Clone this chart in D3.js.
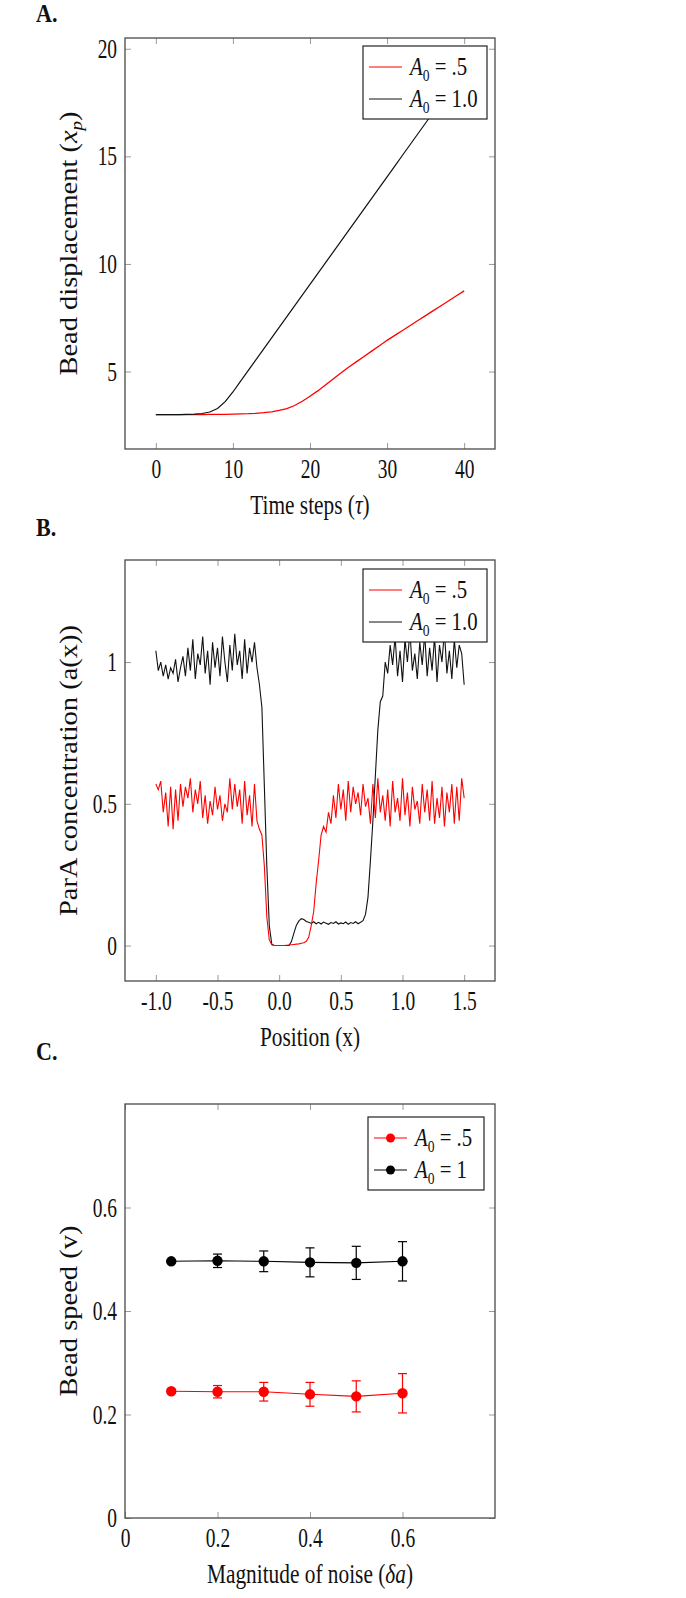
<!DOCTYPE html>
<html>
<head>
<meta charset="utf-8">
<script src="https://cdn.jsdelivr.net/npm/d3@7"></script>
<style>
  body { margin: 0; background: #fff; }
  text { font-family: "Liberation Serif", "DejaVu Serif", serif; fill: #111; }
</style>
</head>
<body>
<div id="chart"></div>
<script>
// ---- Panel A data: bead displacement vs time ----
var timeSteps = d3.range(0, 41);
var dispHalf = [3.00, 3.00, 3.00, 3.00, 3.00, 3.00, 3.00, 3.01, 3.01, 3.01,
  3.02, 3.03, 3.04, 3.06, 3.09, 3.13, 3.19, 3.28, 3.42, 3.62,
  3.85, 4.10, 4.37, 4.65, 4.93, 5.20, 5.45, 5.70, 5.95, 6.20,
  6.45, 6.68, 6.91, 7.14, 7.37, 7.60, 7.83, 8.06, 8.29, 8.52, 8.75];
var dispOne = [3.00, 3.00, 3.00, 3.00, 3.01, 3.02, 3.05, 3.12, 3.28, 3.60,
  4.05, 4.55, 5.05, 5.55, 6.05, 6.55, 7.05, 7.55, 8.05, 8.55,
  9.05, 9.55, 10.05, 10.55, 11.05, 11.55, 12.05, 12.55, 13.05, 13.55,
  14.05, 14.55, 15.05, 15.55, 16.05, 16.55, 17.05, 17.55, 18.05, 18.55, 19.05];

// ---- Panel B data: ParA concentration, sampled every 0.02 from x = -1.0 ----
var concOne = [
  1.04, 0.97, 1.00, 0.95, 0.99, 0.94, 0.98, 0.96, 1.01, 0.93,
  0.98, 1.02, 0.95, 1.05, 0.97, 1.08, 0.94, 1.03, 0.99, 1.09,
  0.96, 1.04, 0.92, 1.07, 0.98, 1.05, 0.95, 1.09, 1.00, 0.93,
  1.06, 0.97, 1.10, 0.99, 1.04, 0.94, 1.08, 0.96, 1.05, 1.00,
  1.07, 0.98, 0.92,
  0.84, 0.56, 0.28, 0.07, 0.005,
  0, 0, 0, 0, 0, 0, 0,
  0.015, 0.045, 0.072, 0.087, 0.095, 0.092, 0.085,
  0.082, 0.078, 0.084, 0.077, 0.082, 0.076, 0.083, 0.079, 0.075, 0.081,
  0.078, 0.084, 0.076, 0.080, 0.077, 0.083, 0.075, 0.081, 0.078, 0.084,
  0.077, 0.082, 0.088,
  0.11, 0.17, 0.30, 0.44, 0.60, 0.76, 0.86, 0.88, 1.00,
  0.96, 1.06, 0.99, 1.09, 0.95, 1.04, 0.93, 1.08, 1.00, 1.11,
  0.97, 1.03, 0.94, 1.07, 0.99, 1.10, 0.95, 1.05, 0.97, 1.09,
  0.93, 1.06, 1.00, 1.11, 0.96, 1.04, 0.94, 1.08, 0.98, 1.06,
  1.03, 0.92];
var concHalf = [
  0.57, 0.55, 0.58, 0.47, 0.54, 0.42, 0.56, 0.41, 0.55, 0.44,
  0.57, 0.49, 0.56, 0.52, 0.59, 0.47, 0.55, 0.50, 0.58, 0.45,
  0.53, 0.43, 0.51, 0.46, 0.56, 0.48, 0.53, 0.44, 0.50, 0.47,
  0.59, 0.48, 0.57, 0.49, 0.55, 0.43, 0.58, 0.46, 0.53, 0.42,
  0.57, 0.44,
  0.41, 0.39, 0.28, 0.10, 0.02, 0.003,
  0, 0, 0, 0, 0,
  0.001, 0.002, 0.003, 0.004, 0.005, 0.006, 0.008, 0.01, 0.015,
  0.03, 0.07, 0.12, 0.22, 0.30, 0.39, 0.42, 0.40, 0.47, 0.43,
  0.53, 0.45, 0.57, 0.48, 0.55, 0.44, 0.58, 0.47, 0.56, 0.50,
  0.54, 0.46, 0.57, 0.49, 0.52, 0.43, 0.57, 0.45, 0.59, 0.47,
  0.53, 0.44, 0.55, 0.42, 0.58, 0.47, 0.52, 0.44, 0.59, 0.46,
  0.54, 0.42, 0.56, 0.48, 0.51, 0.43, 0.57, 0.47, 0.55, 0.44,
  0.58, 0.43, 0.52, 0.45, 0.56, 0.42, 0.54, 0.47, 0.57, 0.43,
  0.56, 0.44, 0.59, 0.52];
var positions = concOne.map((d, i) => -1 + i * 0.02);

// ---- Panel C data: bead speed vs noise ----
var noiseLevels = [0.1, 0.2, 0.3, 0.4, 0.5, 0.6];
var speedHalf = [0.245, 0.244, 0.244, 0.239, 0.235, 0.241];
var errHalf = [0.004, 0.012, 0.018, 0.023, 0.030, 0.038];
var speedOne = [0.496, 0.497, 0.496, 0.494, 0.493, 0.496];
var errOne = [0.003, 0.013, 0.020, 0.028, 0.032, 0.038];

var svgWidth = 686, svgHeight = 1598;
var frameLeft = 125, frameRight = 495;
var plotW = frameRight - frameLeft;
// the figure is squeezed sideways, so all text is narrowed
var fs = 27, sx = 0.72;

var svg = d3.select("#chart").append("svg")
  .attr("width", svgWidth)
  .attr("height", svgHeight);

function drawAxes(g, h, x, y, xTicks, yTicks, xFmt, yFmt) {
  g.append("g").attr("transform", `translate(0,${h})`)
    .call(d3.axisBottom(x).tickValues(xTicks).tickSize(-6).tickPadding(10).tickFormat(xFmt));
  g.append("g")
    .call(d3.axisTop(x).tickValues(xTicks).tickSize(-6).tickFormat(""));
  g.append("g")
    .call(d3.axisLeft(y).tickValues(yTicks).tickSize(-6).tickPadding(11).tickFormat(yFmt));
  g.append("g").attr("transform", `translate(${plotW},0)`)
    .call(d3.axisRight(y).tickValues(yTicks).tickSize(-6).tickFormat(""));
  g.selectAll(".domain").remove();
  g.selectAll(".tick line").attr("stroke", "#9a9a9a");
  g.selectAll(".tick text")
    .attr("font-family", "Liberation Serif, serif")
    .attr("font-size", fs)
    .attr("fill", "#111")
    .attr("transform", `scale(${sx},1)`);
  g.append("rect")
    .attr("width", plotW).attr("height", h)
    .attr("fill", "none").attr("stroke", "#4a4a4a").attr("stroke-width", 1.3);
}

function addParts(txt, parts) {
  parts.forEach(function(p) {
    var ts = txt.append("tspan").text(p.t);
    if (p.i) ts.attr("font-style", "italic");
    if (p.sub) ts.attr("font-size", 19).attr("dy", 5);
    if (p.up) ts.attr("dy", -5);
  });
}

function axisLabels(g, top, h, panelName, labelY, xParts, yParts) {
  svg.append("text")
    .attr("transform", `translate(36,${labelY}) scale(0.85,1)`)
    .attr("font-size", 26).attr("font-weight", "bold")
    .text(panelName);

  var xl = g.append("text")
    .attr("transform", `translate(${plotW / 2},${h + 65}) scale(0.79,1)`)
    .attr("text-anchor", "middle").attr("font-size", fs);
  addParts(xl, xParts);

  var yl = svg.append("text")
    .attr("transform", `translate(69,${top + h / 2}) scale(0.85,1) rotate(-90)`)
    .attr("dy", "0.35em")
    .attr("text-anchor", "middle").attr("font-size", 28.5);
  addParts(yl, yParts);
}

function drawLegend(g, lx, ly, lw, items, withMarker) {
  var lg = g.append("g").attr("transform", `translate(${lx},${ly})`);
  lg.append("rect")
    .attr("width", lw).attr("height", 73)
    .attr("fill", "#fff").attr("stroke", "#222").attr("stroke-width", 1.2);
  items.forEach(function(it, i) {
    var cy = 21 + i * 32;
    lg.append("line")
      .attr("x1", 6).attr("x2", 39).attr("y1", cy).attr("y2", cy)
      .attr("stroke", it.color).attr("stroke-width", 1.2);
    if (withMarker) {
      lg.append("circle").attr("cx", 22.5).attr("cy", cy).attr("r", 4.5).attr("fill", it.color);
    }
    var t = lg.append("text")
      .attr("transform", `translate(47,${cy + 8}) scale(0.8,1)`)
      .attr("font-size", 26);
    t.append("tspan").attr("font-style", "italic").text("A");
    t.append("tspan").attr("font-size", 17).attr("dy", 6).text("0");
    t.append("tspan").attr("dy", -6).text(" = " + it.value);
  });
}

// ================= Panel A =================
var topA = 38, hA = 411;
var gA = svg.append("g").attr("transform", `translate(${frameLeft},${topA})`);
var xA = d3.scaleLinear().domain([-4, 44]).range([0, plotW]);
var yA = d3.scaleLinear().domain([1.4, 20.5]).range([hA, 0]);
drawAxes(gA, hA, xA, yA, [0, 10, 20, 30, 40], [5, 10, 15, 20], d3.format("d"), d3.format("d"));

var lineA = d3.line().x(d => xA(d[0])).y(d => yA(d[1]));
gA.append("path")
  .datum(timeSteps.map((t, i) => [t, dispHalf[i]]))
  .attr("d", lineA).attr("fill", "none").attr("stroke", "red").attr("stroke-width", 1.3);
gA.append("path")
  .datum(timeSteps.map((t, i) => [t, dispOne[i]]))
  .attr("d", lineA).attr("fill", "none").attr("stroke", "#111").attr("stroke-width", 1.2);

drawLegend(gA, 238, 8, 124, [{color: "red", value: ".5"}, {color: "#111", value: "1.0"}], false);
axisLabels(gA, topA, hA, "A.", 22,
  [{t: "Time steps ("}, {t: "τ", i: true}, {t: ")"}],
  [{t: "Bead displacement ("}, {t: "x", i: true}, {t: "p", i: true, sub: true}, {t: ")", up: true}]);

// ================= Panel B =================
var topB = 560, hB = 421;
var gB = svg.append("g").attr("transform", `translate(${frameLeft},${topB})`);
var xB = d3.scaleLinear().domain([-1.25, 1.75]).range([0, plotW]);
var yB = d3.scaleLinear().domain([-0.125, 1.36]).range([hB, 0]);
drawAxes(gB, hB, xB, yB, [-1, -0.5, 0, 0.5, 1, 1.5], [0, 0.5, 1], d => d.toFixed(1), d => String(d));

var lineB = d3.line().x(d => xB(d[0])).y(d => yB(d[1]));
gB.append("path")
  .datum(positions.map((p, i) => [p, concOne[i]]))
  .attr("d", lineB).attr("fill", "none").attr("stroke", "#111").attr("stroke-width", 1.1);
gB.append("path")
  .datum(positions.map((p, i) => [p, concHalf[i]]))
  .attr("d", lineB).attr("fill", "none").attr("stroke", "red").attr("stroke-width", 1.1);

drawLegend(gB, 238, 9, 124, [{color: "red", value: ".5"}, {color: "#111", value: "1.0"}], false);
axisLabels(gB, topB, hB, "B.", 536,
  [{t: "Position (x)"}],
  [{t: "ParA concentration (a(x))"}]);

// ================= Panel C =================
var topC = 1104, hC = 414;
var gC = svg.append("g").attr("transform", `translate(${frameLeft},${topC})`);
var xC = d3.scaleLinear().domain([0, 0.8]).range([0, plotW]);
var yC = d3.scaleLinear().domain([0, 0.8]).range([hC, 0]);
drawAxes(gC, hC, xC, yC, [0, 0.2, 0.4, 0.6], [0, 0.2, 0.4, 0.6], d => String(d), d => String(d));

var seriesC = [
  {color: "red", v: speedHalf, e: errHalf},
  {color: "#000", v: speedOne, e: errOne}
];
var lineC = d3.line().x(d => xC(d[0])).y(d => yC(d[1]));
seriesC.forEach(function(s) {
  var pts = noiseLevels.map((n, i) => [n, s.v[i], s.e[i]]);
  var sg = gC.append("g");
  sg.append("path").datum(pts)
    .attr("d", lineC).attr("fill", "none").attr("stroke", s.color).attr("stroke-width", 1.1);
  var eb = sg.selectAll(".err").data(pts).enter().append("g")
    .attr("stroke", s.color).attr("stroke-width", 1.2);
  eb.append("line")
    .attr("x1", d => xC(d[0])).attr("x2", d => xC(d[0]))
    .attr("y1", d => yC(d[1] - d[2])).attr("y2", d => yC(d[1] + d[2]));
  eb.append("line")
    .attr("x1", d => xC(d[0]) - 4.5).attr("x2", d => xC(d[0]) + 4.5)
    .attr("y1", d => yC(d[1] + d[2])).attr("y2", d => yC(d[1] + d[2]));
  eb.append("line")
    .attr("x1", d => xC(d[0]) - 4.5).attr("x2", d => xC(d[0]) + 4.5)
    .attr("y1", d => yC(d[1] - d[2])).attr("y2", d => yC(d[1] - d[2]));
  sg.selectAll("circle").data(pts).enter().append("circle")
    .attr("cx", d => xC(d[0])).attr("cy", d => yC(d[1]))
    .attr("r", 5.2).attr("fill", s.color);
});

drawLegend(gC, 243, 13, 116, [{color: "red", value: ".5"}, {color: "#000", value: "1"}], true);
axisLabels(gC, topC, hC, "C.", 1060,
  [{t: "Magnitude of noise ("}, {t: "δa", i: true}, {t: ")"}],
  [{t: "Bead speed (v)"}]);
</script>
</body>
</html>
